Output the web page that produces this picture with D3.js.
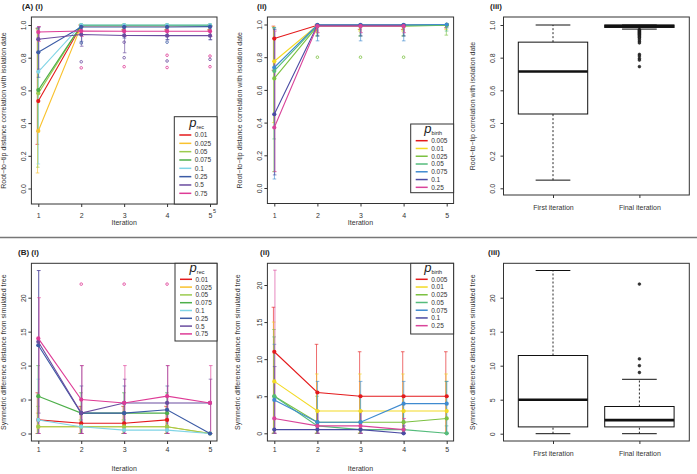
<!DOCTYPE html>
<html><head><meta charset="utf-8">
<script src="https://cdn.jsdelivr.net/npm/d3@7"></script>
<style>body{margin:0;background:#fff} text{font-family:"Liberation Sans",Arial,Helvetica,sans-serif}</style>
</head><body><svg id="c" width="697" height="474"></svg>
<script>
// ---------------- DATA ----------------
const iterations = [1, 2, 3, 4, 5];
const precLabels = ["0.01", "0.025", "0.05", "0.075", "0.1", "0.25", "0.5", "0.75"];
const precColors = ["#E41A1C", "#F9C22E", "#9BCB4E", "#4DAF4A", "#7FD4E6", "#3B5BA5", "#6A4C9F", "#DE3B96"];
const birthLabels = ["0.005", "0.01", "0.025", "0.05", "0.075", "0.1", "0.25"];
const birthColors = ["#E41A1C", "#F3DA24", "#7CC142", "#55BC7C", "#3F8BD0", "#4A4BA3", "#D9449A"];

// (A)(i) root-to-tip distance correlation, by p_rec
const a1Mean = [
  [0.535, 0.995, 0.995, 0.995, 0.995],
  [0.352, 0.995, 0.995, 0.995, 0.995],
  [0.582, 0.998, 0.998, 0.998, 0.998],
  [0.602, 0.998, 0.998, 0.998, 0.998],
  [0.714, 1.0, 1.0, 1.0, 1.0],
  [0.833, 0.988, 0.988, 0.988, 0.99],
  [0.913, 0.942, 0.936, 0.935, 0.935],
  [0.957, 0.963, 0.962, 0.962, 0.962]
];
const a1Lo = [
  [0.27, 0.96, 0.97, 0.97, 0.97],
  [0.095, 0.95, 0.97, 0.97, 0.97],
  [0.13, 0.96, 0.97, 0.97, 0.97],
  [0.35, 0.96, 0.97, 0.97, 0.97],
  [0.15, 0.97, 0.98, 0.98, 0.98],
  [0.68, 0.9, 0.92, 0.91, 0.91],
  [0.73, 0.87, 0.83, 0.91, 0.91],
  [0.9, 0.93, 0.93, 0.93, 0.93]
];
const a1Hi = [
  [0.98, 1.0, 1.0, 1.0, 1.0],
  [0.97, 1.0, 1.0, 1.0, 1.0],
  [0.975, 1.0, 1.0, 1.0, 1.0],
  [0.98, 1.0, 1.0, 1.0, 1.0],
  [0.975, 1.0, 1.0, 1.0, 1.0],
  [0.985, 1.0, 1.0, 1.0, 1.0],
  [0.99, 0.99, 0.99, 0.99, 0.99],
  [0.99, 0.99, 0.99, 0.99, 0.99]
];
const a1OutIter = [2, 2, 2, 3, 3, 3, 4, 4, 4, 4, 5, 5, 5];
const a1OutValue = [0.89, 0.775, 0.738, 0.895, 0.80, 0.745, 0.895, 0.815, 0.78, 0.74, 0.81, 0.79, 0.745];
const a1OutSeries = [5, 6, 7, 6, 6, 7, 5, 7, 6, 7, 7, 6, 7];

// (A)(ii) by p_birth
const a2Mean = [
  [0.914, 0.995, 0.995, 0.995, 0.998],
  [0.775, 0.995, 0.995, 0.995, 0.998],
  [0.67, 0.99, 0.99, 0.99, 0.995],
  [0.716, 0.995, 0.995, 0.995, 0.998],
  [0.737, 0.998, 0.998, 0.998, 1.0],
  [0.451, 0.995, 0.995, 0.995, null],
  [0.37, 0.99, 0.99, 0.99, null]
];
const a2Lo = [
  [0.72, 0.96, 0.97, 0.97, 0.98],
  [0.4, 0.95, 0.96, 0.96, 0.97],
  [0.1, 0.93, 0.93, 0.93, 0.935],
  [0.3, 0.93, 0.93, 0.93, 0.96],
  [0.055, 0.9, 0.9, 0.9, 0.98],
  [0.08, 0.93, 0.93, 0.93, null],
  [0.1, 0.95, 0.95, 0.95, null]
];
const a2Hi = [
  [0.99, 1.0, 1.0, 1.0, 1.0],
  [0.985, 1.0, 1.0, 1.0, 1.0],
  [0.98, 1.0, 1.0, 1.0, 1.0],
  [0.98, 1.0, 1.0, 1.0, 1.0],
  [0.98, 1.0, 1.0, 1.0, 1.0],
  [0.97, 1.0, 1.0, 1.0, null],
  [0.96, 1.0, 1.0, 1.0, null]
];
const a2OutIter = [2, 3, 4];
const a2OutValue = [0.8, 0.8, 0.8];
const a2OutSeries = [2, 2, 2];

// (B)(i) symmetric difference, by p_rec
const b1Mean = [
  [2, 1.5, 1.5, 2, null],
  [1, 1, 1, 1, 0],
  [1, 1, 1, 1, 0],
  [5.5, 3, 3, 3, null],
  [2, 1, 0.5, 0.5, 0],
  [13, 3, 3, 3.5, 0],
  [13.5, 3, 4.5, 4.5, 4.5],
  [14, 5, 4.5, 5.5, 4.5]
];
const b1Lo = [
  [0, 0, 0, 0, null],
  [0, 0, 0, 0, 0],
  [0, 0, 0, 0, 0],
  [0, 0, 0, 0, null],
  [0, 0, 0, 0, 0],
  [0, 0, 0, 0, 0],
  [3, 0, 0, 0, 0],
  [0, 0, 0, 0, 0]
];
const b1Hi = [
  [6, 4, 4, 4, null],
  [3, 2, 2, 2, 0],
  [4, 2, 2, 2, 0],
  [10, 6, 6, 6, null],
  [8, 2, 2, 2, 0],
  [24, 7, 7, 7, 0],
  [24, 10, 8, 10, 8],
  [20, 10, 10, 10, 10]
];
const b1OutIter = [2, 3, 4, 5];
const b1OutValue = [22, 22, 22, 22];
const b1OutSeries = [7, 7, 7, 7];

// (B)(ii) by p_birth
const b2Mean = [
  [11, 5.5, 5, 5, 5],
  [7, 3, 3, 3, 3],
  [5, 1.5, 1.5, 1.5, 2],
  [5, 1, 0.5, 0.5, 0],
  [4.5, 1.5, 1.5, 4, 4],
  [0.5, 0.5, 0.5, 0, null],
  [2, 1, 1, 0.5, null]
];
const b2Lo = [
  [0, 0, 0, 0, 0],
  [0, 0, 0, 0, 0],
  [0, 0, 0, 0, 0],
  [0, 0, 0, 0, 0],
  [0, 0, 0, 0, 0],
  [0, 0, 0, 0, null],
  [0, 0, 0, 0, null]
];
const b2Hi = [
  [17, 12, 11, 11, 11],
  [15, 8, 8, 8, 8],
  [14, 5, 5, 5, 7],
  [13, 3, 3, 3, 1],
  [12, 7, 7, 7, 7],
  [9, 3, 3, 1, null],
  [22, 3, 3, 2, null]
];

// (iii) box plots: [lowWhisker, q1, median, q3, highWhisker]
const boxCategories = ["First iteration", "Final iteration"];
const a3Stats = [[0.05, 0.455, 0.715, 0.895, 1.0], [0.975, 0.985, 0.993, 1.0, 1.0]];
const a3Outliers = [[], [0.972, 0.968, 0.964, 0.96, 0.956, 0.952, 0.948, 0.944, 0.94, 0.936, 0.93, 0.925, 0.92, 0.91, 0.9, 0.89, 0.82, 0.81, 0.795, 0.785, 0.745]];
const b3Stats = [[0, 1, 5, 11.5, 24], [0, 1, 2, 4, 8]];
const b3Outliers = [[], [9, 10, 11, 22]];

const corTicks = [0, 0.2, 0.4, 0.6, 0.8, 1.0];
const symTicks = [0, 5, 10, 15, 20];

// ---------------- DRAWING ----------------
const svg = d3.select("#c");
const FONT = 7;

function frame(b) {
  svg.append("rect").attr("x", b.x0).attr("y", b.y0).attr("width", b.x1 - b.x0).attr("height", b.y1 - b.y0)
    .attr("fill", "none").attr("stroke", "#333").attr("stroke-width", 1);
}
function yAxis(b, y, ticks, fmt, labelOff, title, titleOff) {
  const g = svg.append("g").attr("transform", `translate(${b.x0},0)`);
  g.call(d3.axisLeft(y).tickValues(ticks).tickFormat(fmt).tickSize(3).tickPadding(2));
  g.select(".domain").remove();
  g.selectAll(".tick line").attr("stroke", "#333");
  g.selectAll(".tick text").attr("font-size", FONT).attr("fill", "#333")
    .attr("text-anchor", "middle").attr("dy", 0).attr("x", 0).attr("y", 2.5)
    .attr("transform", `translate(${-labelOff},0) rotate(-90)`);
  svg.append("text").attr("transform", `translate(${b.x0 - titleOff},${(b.y0 + b.y1) / 2}) rotate(-90)`)
    .attr("text-anchor", "middle").attr("font-size", FONT).attr("fill", "#333").text(title);
}
function xAxisNum(b, x, labelY, titleY) {
  const g = svg.append("g").attr("transform", `translate(0,${b.y1})`);
  g.call(d3.axisBottom(x).tickValues(iterations).tickFormat(d3.format("d")).tickSize(3).tickPadding(2));
  g.select(".domain").remove();
  g.selectAll(".tick line").attr("stroke", "#333");
  g.selectAll(".tick text").attr("font-size", FONT).attr("fill", "#333").attr("y", labelY - b.y1 + 2.5).attr("dy", 0);
  svg.append("text").attr("x", (b.x0 + b.x1) / 2).attr("y", titleY + 2.5).attr("text-anchor", "middle")
    .attr("font-size", FONT).attr("fill", "#333").text("Iteration");
}
function title(x, yb, t) {
  svg.append("text").attr("x", x).attr("y", yb).attr("font-size", 8).attr("font-weight", "bold").attr("fill", "#222").text(t);
}

function linePanel(cfg) {
  const b = cfg.box;
  const x = d3.scaleLinear().domain([1, 5]).range(cfg.xr);
  const y = d3.scaleLinear().domain(cfg.yd).range(cfg.yr);
  frame(b);
  yAxis(b, y, cfg.ticks, cfg.fmt, cfg.labelOff, cfg.ylab, cfg.titleOff);
  xAxisNum(b, x, cfg.xLabelY, cfg.xTitleY);
  const plot = svg.append("g");
  cfg.mean.forEach((ser, si) => {
    ser.forEach((v, i) => {
      const lo = cfg.lo[si][i], hi = cfg.hi[si][i];
      if (v === null || lo === null) return;
      const xx = x(iterations[i]) + (si - cfg.mean.length / 2) * 0.25;
      const eg = plot.append("g").attr("stroke", cfg.colors[si]).attr("stroke-opacity", 0.8).attr("stroke-width", 0.8);
      eg.append("line").attr("x1", xx).attr("x2", xx).attr("y1", y(lo)).attr("y2", y(hi));
      [lo, hi].forEach(t => eg.append("line").attr("x1", xx - 1.8).attr("x2", xx + 1.8).attr("y1", y(t)).attr("y2", y(t)));
    });
  });
  if (cfg.outIter) {
    cfg.outIter.forEach((it, k) => {
      plot.append("circle").attr("cx", x(it)).attr("cy", y(cfg.outValue[k])).attr("r", 1.3)
        .attr("fill", "none").attr("stroke", cfg.colors[cfg.outSeries[k]]).attr("stroke-width", 0.8);
    });
  }
  const line = d3.line().defined(d => d.v !== null).x(d => x(d.i)).y(d => y(d.v));
  cfg.mean.forEach((ser, si) => {
    const pts = ser.map((v, i) => ({i: iterations[i], v}));
    plot.append("path").attr("d", line(pts)).attr("fill", "none").attr("stroke", cfg.colors[si]).attr("stroke-width", 1.1);
    pts.filter(p => p.v !== null).forEach(p => {
      plot.append("circle").attr("cx", x(p.i)).attr("cy", y(p.v)).attr("r", 2.1).attr("fill", cfg.colors[si]);
    });
  });
  const L = cfg.legend;
  svg.append("rect").attr("x", L.x0).attr("y", L.y0).attr("width", L.x1 - L.x0).attr("height", L.y1 - L.y0)
    .attr("fill", "#fff").attr("stroke", "#333").attr("stroke-width", 1);
  const tt = svg.append("text").attr("x", (L.x0 + L.x1) / 2 + 1).attr("y", L.titleY).attr("text-anchor", "middle").attr("fill", "#222");
  tt.append("tspan").attr("font-size", 13).attr("font-style", "italic").text("p");
  tt.append("tspan").attr("font-size", 5.5).attr("dy", 2).text(cfg.sub);
  cfg.labels.forEach((lab, i) => {
    const yy = L.first + i * L.step;
    svg.append("line").attr("x1", L.x0 + 5).attr("x2", L.x0 + 17).attr("y1", yy).attr("y2", yy)
      .attr("stroke", cfg.colors[i]).attr("stroke-width", 1.5);
    svg.append("text").attr("x", L.x0 + 20.5).attr("y", yy + 2.4).attr("font-size", 6.5).attr("fill", "#333").text(lab);
  });
}

function boxPanel(cfg) {
  const b = cfg.box;
  const x = d3.scalePoint().domain(boxCategories).range(cfg.xr);
  const y = d3.scaleLinear().domain(cfg.yd).range(cfg.yr);
  frame(b);
  yAxis(b, y, cfg.ticks, cfg.fmt, cfg.labelOff, cfg.ylab, cfg.titleOff);
  const g = svg.append("g").attr("transform", `translate(0,${b.y1})`);
  g.call(d3.axisBottom(x).tickSize(3).tickPadding(2));
  g.select(".domain").remove();
  g.selectAll(".tick line").attr("stroke", "#333");
  g.selectAll(".tick text").attr("font-size", FONT).attr("fill", "#333").attr("y", cfg.xLabelY - b.y1 + 2.5).attr("dy", 0);
  const bw = cfg.boxW;
  boxCategories.forEach((c, i) => {
    const s = cfg.stats[i], cx = x(c);
    const p = svg.append("g").attr("stroke", "#111");
    p.append("line").attr("x1", cx).attr("x2", cx).attr("y1", y(s[0])).attr("y2", y(s[1])).attr("stroke-dasharray", "2,2").attr("stroke-width", 0.9);
    p.append("line").attr("x1", cx).attr("x2", cx).attr("y1", y(s[3])).attr("y2", y(s[4])).attr("stroke-dasharray", "2,2").attr("stroke-width", 0.9);
    [s[0], s[4]].forEach(v => p.append("line").attr("x1", cx - bw / 4).attr("x2", cx + bw / 4).attr("y1", y(v)).attr("y2", y(v)).attr("stroke-width", 1));
    p.append("rect").attr("x", cx - bw / 2).attr("y", y(s[3])).attr("width", bw).attr("height", Math.max(0.5, y(s[1]) - y(s[3])))
      .attr("fill", "#fff").attr("stroke-width", 1);
    p.append("line").attr("x1", cx - bw / 2).attr("x2", cx + bw / 2).attr("y1", y(s[2])).attr("y2", y(s[2])).attr("stroke-width", 2.6);
    cfg.outliers[i].forEach(v => svg.append("circle").attr("cx", cx).attr("cy", y(v)).attr("r", 1.4)
      .attr("fill", "#333").attr("stroke", "#111").attr("stroke-width", 0.5));
  });
}

// separator
svg.append("line").attr("x1", 0).attr("x2", 697).attr("y1", 237.5).attr("y2", 237.5).attr("stroke", "#777").attr("stroke-width", 1.3);

const f1 = d3.format(".1f"), fd = d3.format("d");

linePanel({
  box: {x0: 31.4, x1: 217, y0: 17, y1: 204}, xr: [38.3, 210], yd: [0, 1], yr: [188.5, 25],
  ticks: corTicks, fmt: f1, labelOff: 8, titleOff: 25, ylab: "Root\u2212to\u2212tip distance correlation with isolation date",
  xLabelY: 215, xTitleY: 222, mean: a1Mean, lo: a1Lo, hi: a1Hi, colors: precColors, labels: precLabels, sub: "rec",
  outIter: a1OutIter, outValue: a1OutValue, outSeries: a1OutSeries,
  legend: {x0: 174.3, x1: 217, y0: 116.7, y1: 204, titleY: 127, first: 135, step: 8.33}
});
svg.append("text").attr("x", 213).attr("y", 213).attr("font-size", 5.5).attr("fill", "#333").text("5");
title(22, 9, "(A) (i)");

linePanel({
  box: {x0: 267.4, x1: 453.6, y0: 17, y1: 203.5}, xr: [274.3, 446.7], yd: [0, 1], yr: [188, 24.5],
  ticks: corTicks, fmt: f1, labelOff: 8, titleOff: 25.7, ylab: "Root\u2212to\u2212tip distance correlation with isolation date",
  xLabelY: 215, xTitleY: 222, mean: a2Mean, lo: a2Lo, hi: a2Hi, colors: birthColors, labels: birthLabels, sub: "birth",
  outIter: a2OutIter, outValue: a2OutValue, outSeries: a2OutSeries,
  legend: {x0: 410.7, x1: 453.6, y0: 124, y1: 192.7, titleY: 133, first: 140.7, step: 7.77}
});
title(257, 9, "(ii)");

boxPanel({
  box: {x0: 503.5, x1: 689.3, y0: 17, y1: 195}, xr: [553, 639.4], yd: [0, 1], yr: [188.3, 25],
  ticks: corTicks, fmt: f1, labelOff: 11, titleOff: 28.5, ylab: "Root\u2212to\u2212tip correlation with isolation date",
  xLabelY: 207, stats: a3Stats, outliers: a3Outliers, boxW: 69.4
});
title(490, 9, "(iii)");

linePanel({
  box: {x0: 31.4, x1: 217, y0: 263.3, y1: 441}, xr: [38.3, 210], yd: [0, 20], yr: [433.5, 297.7],
  ticks: symTicks, fmt: fd, labelOff: 8, titleOff: 25, ylab: "Symmetric difference distance from simulated tree",
  xLabelY: 449, xTitleY: 468, mean: b1Mean, lo: b1Lo, hi: b1Hi, colors: precColors, labels: precLabels, sub: "rec",
  outIter: b1OutIter, outValue: b1OutValue, outSeries: b1OutSeries,
  legend: {x0: 175, x1: 217, y0: 263.3, y1: 341, titleY: 272, first: 279.3, step: 7.8}
});
title(18, 255, "(B) (i)");

linePanel({
  box: {x0: 267.4, x1: 453.6, y0: 263.3, y1: 441}, xr: [274.3, 446.7], yd: [0, 20], yr: [433.3, 285],
  ticks: symTicks, fmt: fd, labelOff: 8, titleOff: 27, ylab: "Symmetric difference distance from simulated tree",
  xLabelY: 449, xTitleY: 468, mean: b2Mean, lo: b2Lo, hi: b2Hi, colors: birthColors, labels: birthLabels, sub: "birth",
  legend: {x0: 410.7, x1: 453.6, y0: 263.3, y1: 334, titleY: 272, first: 279.3, step: 7.73}
});
title(260, 255, "(ii)");

boxPanel({
  box: {x0: 503.5, x1: 689.3, y0: 263.3, y1: 441}, xr: [553, 639.4], yd: [0, 20], yr: [433.7, 297.7],
  ticks: symTicks, fmt: fd, labelOff: 11, titleOff: 28.5, ylab: "Symmetric difference distance from simulated tree",
  xLabelY: 453, stats: b3Stats, outliers: b3Outliers, boxW: 69.4
});
title(488, 255, "(iii)");
</script></body></html>
